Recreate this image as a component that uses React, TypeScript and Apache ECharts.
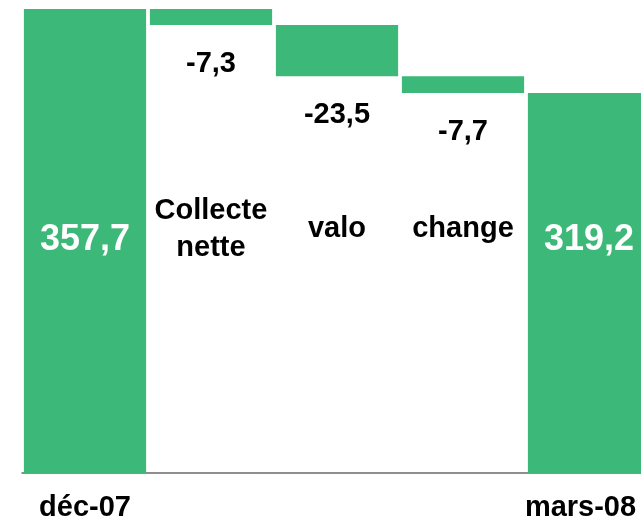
import React, { useEffect, useRef } from "react";
import * as echarts from "echarts";

const categories = ["déc-07", "Collecte nette", "valo", "change", "mars-08"];
const plotNames = ["", "Collecte\nnette", "valo", "change", ""];
const axisLabels = ["déc-07", "", "", "", "mars-08"];
const openingTotal = 357.7;
const changes = [-7.3, -23.5, -7.7];
const closingTotal = 319.2;

const GREEN = "#3cb878";
const FONT = "'Liberation Sans', Arial, sans-serif";

function fmt(v: number): string {
  return v.toFixed(1).replace(".", ",");
}

export default function App() {
  const ref = useRef<HTMLDivElement>(null);
  useEffect(() => {
    const chart = echarts.init(ref.current!, null, { renderer: "svg" });

    const bases: number[] = [0];
    const heights: number[] = [openingTotal];
    const labelsTxt: string[] = [fmt(openingTotal)];
    let run = openingTotal;
    changes.forEach((c) => {
      run = Math.round((run + c) * 10) / 10;
      bases.push(run);
      heights.push(Math.abs(c));
      labelsTxt.push(fmt(c));
    });
    bases.push(0);
    heights.push(closingTotal);
    labelsTxt.push(fmt(closingTotal));
    const last = categories.length - 1;

    const baseData = bases.map((b, i) => ({
      value: b,
      label: {
        show: !!plotNames[i],
        formatter: plotNames[i] || "",
      },
    }));

    const visData = heights.map((h, i) => {
      const isTotal = i === 0 || i === last;
      return {
        value: h,
        label: isTotal
          ? {
              show: true,
              position: "insideBottom",
              distance: 236,
              verticalAlign: "middle",
              color: "#ffffff",
              fontSize: 36,
              fontWeight: "bold",
              fontFamily: FONT,
              formatter: labelsTxt[i],
            }
          : {
              show: true,
              position: "bottom",
              distance: 37,
              verticalAlign: "middle",
              color: "#000000",
              fontSize: 29,
              fontWeight: "bold",
              fontFamily: FONT,
              formatter: labelsTxt[i],
            },
      };
    });

    chart.setOption({
      animation: false,
      grid: {
        left: 22,
        top: 9,
        width: 630,
        height: 464,
        containLabel: false,
        outerBoundsMode: "none",
      },
      xAxis: {
        type: "category",
        data: categories,
        axisTick: { show: false },
        axisLine: { lineStyle: { color: "#6a6a6a", width: 1.5 } },
        axisLabel: {
          interval: 0,
          margin: 19,
          color: "#000000",
          fontSize: 29,
          lineHeight: 27,
          fontWeight: "bold",
          fontFamily: FONT,
          formatter: (_v: string, i: number) => {
            const t = axisLabels[i];
            if (!t) return "";
            return i === last ? `{last|${t}}` : t;
          },
          rich: {
            last: {
              color: "#000000",
              fontSize: 29,
              lineHeight: 27,
              fontWeight: "bold",
              fontFamily: FONT,
              padding: [0, 17, 0, 0],
            },
          },
        },
      },
      yAxis: {
        type: "value",
        min: 145,
        max: 357.7,
        show: false,
        splitLine: { show: false },
      },
      series: [
        {
          type: "bar",
          stack: "w",
          barCategoryGap: "3%",
          clip: true,
          itemStyle: { color: "transparent" },
          emphasis: { disabled: true },
          label: {
            position: "insideBottom",
            distance: 246,
            verticalAlign: "middle",
            color: "#000000",
            fontSize: 29,
            lineHeight: 37,
            fontWeight: "bold",
            fontFamily: FONT,
          },
          data: baseData,
        },
        {
          type: "bar",
          stack: "w",
          barCategoryGap: "3%",
          clip: true,
          itemStyle: { color: GREEN },
          data: visData,
        },
      ],
    });
    return () => chart.dispose();
  }, []);
  return (
    <div
      ref={ref}
      style={{ position: "fixed", left: 0, top: 0, width: 641, height: 523 }}
    />
  );
}
